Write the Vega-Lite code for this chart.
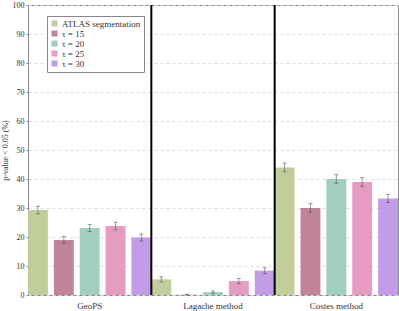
{
  "$schema": "https://vega.github.io/schema/vega-lite/v6.json",
  "autosize": "none",
  "width": 370,
  "height": 290,
  "padding": {"left": 28, "top": 5, "right": 1, "bottom": 16},
  "config": {
    "font": "Liberation Serif",
    "view": {"stroke": "#888888", "strokeWidth": 1},
    "axis": {"labelFont": "Liberation Serif", "titleFont": "Liberation Serif", "labelColor": "#333333", "titleColor": "#333333", "domainColor": "#888888", "tickColor": "#888888", "titleFontWeight": "normal"}
  },
  "datasets": {
    "bars": [
      {"method": "GeoPS", "series": "ATLAS segmentation", "value": 29.3, "err": 1.3},
      {"method": "GeoPS", "series": "τ = 15", "value": 19.0, "err": 1.2},
      {"method": "GeoPS", "series": "τ = 20", "value": 23.1, "err": 1.2},
      {"method": "GeoPS", "series": "τ = 25", "value": 23.8, "err": 1.3},
      {"method": "GeoPS", "series": "τ = 30", "value": 19.8, "err": 1.2},
      {"method": "Lagache method", "series": "ATLAS segmentation", "value": 5.4, "err": 0.9},
      {"method": "Lagache method", "series": "τ = 15", "value": 0.1, "err": 0.1},
      {"method": "Lagache method", "series": "τ = 20", "value": 1.0, "err": 0.4},
      {"method": "Lagache method", "series": "τ = 25", "value": 4.8, "err": 0.9},
      {"method": "Lagache method", "series": "τ = 30", "value": 8.4, "err": 1.0},
      {"method": "Costes method", "series": "ATLAS segmentation", "value": 44.0, "err": 1.5},
      {"method": "Costes method", "series": "τ = 15", "value": 30.0, "err": 1.5},
      {"method": "Costes method", "series": "τ = 20", "value": 40.0, "err": 1.5},
      {"method": "Costes method", "series": "τ = 25", "value": 39.0, "err": 1.5},
      {"method": "Costes method", "series": "τ = 30", "value": 33.3, "err": 1.4}
    ],
    "seps": [
      {"method": "Lagache method"},
      {"method": "Costes method"}
    ]
  },
  "layer": [
    {
      "data": {"name": "bars"},
      "mark": {"type": "bar", "opacity": 0.95},
      "encoding": {
        "x": {"field": "method", "type": "nominal", "sort": ["GeoPS", "Lagache method", "Costes method"],
              "scale": {"paddingInner": 0, "paddingOuter": 0},
              "axis": {"title": null, "labelAngle": 0, "ticks": false, "domain": false, "labelFontSize": 9, "labelPadding": 6}},
        "xOffset": {"field": "series", "type": "nominal", "scale": {"paddingInner": 0.23, "paddingOuter": 0}},
        "y": {"field": "value", "type": "quantitative", "scale": {"domain": [0, 100]},
              "axis": {"values": [0,10,20,30,40,50,60,70,80,90,100], "labelOverlap": false, "title": "p-value < 0.05 (%)", "titleFontSize": 8, "labelFontSize": 8, "tickSize": 2, "labelPadding": 2, "gridDash": [3, 3], "gridColor": "#dcdcdc", "titlePadding": 3}},
        "color": {"field": "series", "type": "nominal",
                  "scale": {"domain": ["ATLAS segmentation", "τ = 15", "τ = 20", "τ = 25", "τ = 30"],
                            "range": ["#bfca97", "#be7c94", "#9ccbbe", "#e597bf", "#bf97e3"]},
                  "legend": {"title": null, "orient": "none", "legendX": 19, "legendY": 11, "symbolType": "square", "symbolSize": 36, "labelFontSize": 9, "labelFont": "Liberation Serif", "labelColor": "#333333", "rowPadding": 0, "padding": 3, "strokeColor": "#888888", "fillColor": "white", "symbolStrokeWidth": 0, "labelOffset": 3}}
      }
    },
    {
      "data": {"name": "bars"},
      "mark": {"type": "rule", "color": "#555555", "opacity": 0.6, "strokeWidth": 1},
      "transform": [{"calculate": "datum.value - datum.err", "as": "lo"}, {"calculate": "datum.value + datum.err", "as": "hi"}],
      "encoding": {
        "x": {"field": "method", "type": "nominal", "sort": ["GeoPS", "Lagache method", "Costes method"]},
        "xOffset": {"field": "series", "type": "nominal"},
        "y": {"field": "lo", "type": "quantitative",
              "axis": {"values": [0,10,20,30,40,50,60,70,80,90,100], "labelOverlap": false, "title": "p-value < 0.05 (%)", "titleFontSize": 8, "labelFontSize": 8, "tickSize": 2, "labelPadding": 2, "gridDash": [3, 3], "gridColor": "#dcdcdc", "titlePadding": 3}},
        "y2": {"field": "hi"}
      }
    },
    {
      "data": {"name": "bars"},
      "mark": {"type": "tick", "color": "#555555", "opacity": 0.6, "orient": "horizontal", "size": 4, "thickness": 1},
      "transform": [{"calculate": "datum.value - datum.err", "as": "lo"}],
      "encoding": {
        "x": {"field": "method", "type": "nominal", "sort": ["GeoPS", "Lagache method", "Costes method"]},
        "xOffset": {"field": "series", "type": "nominal"},
        "y": {"field": "lo", "type": "quantitative",
              "axis": {"values": [0,10,20,30,40,50,60,70,80,90,100], "labelOverlap": false, "title": "p-value < 0.05 (%)", "titleFontSize": 8, "labelFontSize": 8, "tickSize": 2, "labelPadding": 2, "gridDash": [3, 3], "gridColor": "#dcdcdc", "titlePadding": 3}}
      }
    },
    {
      "data": {"name": "bars"},
      "mark": {"type": "tick", "color": "#555555", "opacity": 0.6, "orient": "horizontal", "size": 4, "thickness": 1},
      "transform": [{"calculate": "datum.value + datum.err", "as": "hi"}],
      "encoding": {
        "x": {"field": "method", "type": "nominal", "sort": ["GeoPS", "Lagache method", "Costes method"]},
        "xOffset": {"field": "series", "type": "nominal"},
        "y": {"field": "hi", "type": "quantitative",
              "axis": {"values": [0,10,20,30,40,50,60,70,80,90,100], "labelOverlap": false, "title": "p-value < 0.05 (%)", "titleFontSize": 8, "labelFontSize": 8, "tickSize": 2, "labelPadding": 2, "gridDash": [3, 3], "gridColor": "#dcdcdc", "titlePadding": 3}}
      }
    },
    {
      "data": {"name": "seps"},
      "mark": {"type": "rule", "color": "black", "strokeWidth": 2},
      "encoding": {
        "x": {"field": "method", "type": "nominal", "sort": ["GeoPS", "Lagache method", "Costes method"], "bandPosition": 0}
      }
    }
  ]
}
